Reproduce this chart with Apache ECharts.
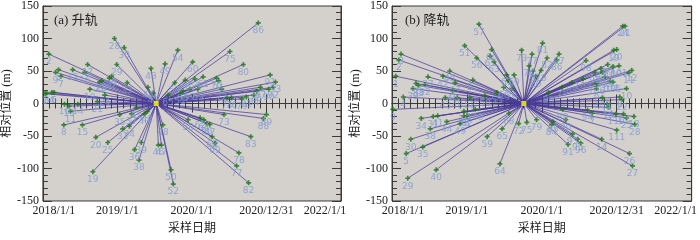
<!DOCTYPE html>
<html><head><meta charset="utf-8">
<script src="https://cdn.jsdelivr.net/npm/echarts@6/dist/echarts.min.js"></script>
<style>html,body{margin:0;padding:0;background:#fff}#c{width:700px;height:240px}</style>
</head><body><div id="c"></div>
<script>
// ---- data (x: decimal year, y: relative position in m) ----
const xTickLabels = {2018:'2018/1/1', 2019:'2019/1/1', 2020:'2020/1/1', 2021:'2020/12/31', 2022:'2022/1/1'};
const yTicks = [-150,-100,-50,0,50,100,150];
const panelTitles = ['(a) 升轨', '(b) 降轨'];

const aMaster = [2019.52, 0];
const aLabel = ['28','30','2','5','9','7','17','12','16','29','43','49','54','60','86','75','80','22','23','26','27','33','18','24','21','44','45','1','3','4','6','10','13','11','14','8','15','20','25','35','31','34','37','41','40','42','36','39','38','19','46','47','48','50','52','73','89','88','58','62','64','66','67','83','68','69','78','77','82','53','56','59','61','70','71','91','93','92','90','87','85','84','81','79','74','76','72','55','57','63','51','65'];
const aYear = [2018.96,2019.09,2018.08,2018.21,2018.17,2018.24,2018.60,2018.40,2018.56,2018.99,2019.45,2019.64,2019.81,2020.01,2020.89,2020.51,2020.69,2018.76,2018.79,2018.89,2018.92,2019.13,2018.63,2018.83,2018.73,2019.41,2019.48,2018.03,2018.05,2018.12,2018.15,2018.29,2018.35,2018.37,2018.47,2018.28,2018.53,2018.71,2018.87,2019.03,2019.07,2019.16,2019.19,2019.25,2019.36,2019.40,2019.23,2019.32,2019.29,2018.67,2019.55,2019.59,2019.61,2019.72,2019.75,2020.43,2021.00,2020.96,2019.95,2020.11,2020.16,2020.20,2020.24,2020.79,2020.27,2020.31,2020.63,2020.60,2020.76,2019.77,2019.91,2020.04,2020.15,2020.33,2020.36,2021.05,2021.12,2021.09,2021.03,2020.92,2020.87,2020.83,2020.73,2020.67,2020.47,2020.53,2020.40,2019.88,2019.97,2020.08,2019.84,2019.68];
const aBase = [100,86,76,52,48,42,60,52,48,60,54,61,82,64,124,80,60,33,35,39,42,32,22,13,3,25,16,15,16,17,17,-1,-4,-12,-1,-33,-33,-52,-60,-17,-39,-35,-16,-6,-16,-12,-71,-60,-87,-105,-64,-64,-33,-102,-124,-17,-17,-23,-25,-22,-25,-31,-32,-51,-51,-61,-76,-96,-122,32,36,38,41,39,35,44,33,25,22,25,19,13,10,7,9,9,22,20,22,22,15,13];

const bMaster = [2019.76, 0];
const bLabel = ['57','51','56','60','61','63','3','2','1','4','9','42','45','47','37','39','36','33','32','46','43','48','52','53','50','55','67','69','66','70','54','73','77','81','82','87','86','74','76','78','80','98','24','21','19','20','12','11','10','6','22','8','108','97','99','100','101','92','102','103','104','105','106','107','88','71','83','75','72','79','84','85','89','90','93','91','95','96','94','7','14','26','27','111','28','25','13','110','17','15','18','34','31','41','44','38','49','58','62','109','16','30','35','5','59','65','68','64','40','29'];
const bYear = [2019.16,2018.97,2019.13,2019.33,2019.31,2019.36,2018.12,2018.09,2018.05,2018.15,2018.01,2018.68,2018.77,2018.84,2018.48,2018.28,2018.32,2018.35,2018.44,2018.81,2018.71,2018.87,2019.08,2019.04,2019.24,2019.40,2019.53,2019.63,2019.49,2019.60,2019.55,2019.73,2019.87,2020.01,2020.07,2020.23,2020.20,2019.83,2019.88,2019.99,2019.92,2020.59,2021.08,2021.11,2020.96,2021.00,2021.20,2021.16,2021.13,2020.73,2021.07,2021.04,2020.81,2020.79,2020.88,2020.95,2021.03,2020.71,2020.81,2020.84,2020.91,2020.95,2020.73,2020.55,2020.40,2020.27,2020.09,2019.80,2019.69,2019.93,2020.13,2020.15,2020.28,2020.32,2020.41,2020.35,2020.48,2020.52,2020.61,2020.67,2020.80,2021.17,2021.21,2021.00,2021.24,2021.13,2021.23,2020.99,2021.09,2020.87,2020.89,2018.39,2018.55,2018.61,2018.73,2018.51,2018.91,2018.96,2019.00,2019.11,2018.96,2018.25,2018.41,2018.19,2019.27,2019.47,2019.56,2019.44,2018.59,2018.21];
const bBase = [122,89,70,83,73,64,76,67,42,10,-9,42,50,32,41,23,31,28,29,20,9,9,36,9,12,17,44,44,25,23,35,82,76,93,70,76,67,58,50,51,42,66,119,119,82,83,51,47,23,23,6,10,9,54,60,57,58,48,48,41,35,33,31,38,32,25,17,-29,-31,-25,-33,-28,-9,-25,-47,-63,-55,-61,-10,-15,-55,-77,-96,-41,-32,-22,-20,-16,-16,-1,-6,-23,-20,-19,-28,-39,-31,-19,-19,-9,-12,-55,-67,-77,-51,-39,-15,-93,-102,-115];

// ---- styles ----
const serif = 'Liberation Serif, Times New Roman, serif';
const cjk = 'Liberation Serif, Noto Sans CJK SC, serif';
const axisCol = '#3a3a3a';
const plusPath = 'path://M2,0H4V2H6V4H4V6H2V4H0V2H2Z';

const panels = [
  {master: aMaster, lab: aLabel, x: aYear, y: aBase, left: 41},
  {master: bMaster, lab: bLabel, x: bYear, y: bBase, left: 392}
];

const grid = [], xAxis = [], yAxis = [], series = [], title = [];
panels.forEach((p, i) => {
  grid.push({left: p.left, top: 6, width: 300, height: 206, show: true,
    backgroundColor: '#d4d0cc', borderColor: axisCol, borderWidth: 1});
  title.push({text: panelTitles[i], left: p.left + 8, top: 9,
    textStyle: {fontSize: 13, fontWeight: 'normal', color: '#222', fontFamily: cjk}});
  const common = {type: 'value', gridIndex: i, min: 2018, max: 2022, interval: 1,
    axisLine: {show: true, lineStyle: {color: axisCol}},
    axisTick: {show: true, inside: true, length: 9, lineStyle: {color: axisCol}},
    minorTick: {show: true, splitNumber: 12, length: 5, lineStyle: {color: axisCol}},
    splitLine: {show: false}};
  xAxis.push(Object.assign({}, common, {position: 'bottom',
    name: '采样日期', nameLocation: 'middle', nameGap: 22,
    nameTextStyle: {fontFamily: cjk, fontSize: 12, color: '#222'},
    axisLabel: {margin: 4, fontFamily: serif, fontSize: 12, color: '#222',
      formatter: v => {
        const t = xTickLabels[Math.round(v)] || '';
        if (Math.round(v) === 2018) return '{l|' + t + '}';
        if (Math.round(v) === 2022) return '{r|' + t + '}';
        return t;
      },
      rich: {
        l: {padding: [0, 0, 0, 22], fontFamily: serif, fontSize: 12, color: '#222'},
        r: {padding: [0, 32, 0, 0], fontFamily: serif, fontSize: 12, color: '#222'}
      }}}));
  xAxis.push(Object.assign({}, common, {position: 'top', axisLabel: {show: false}}));
  const ycommon = {type: 'value', gridIndex: i, min: -150, max: 150, interval: 50,
    axisLine: {show: true, lineStyle: {color: axisCol}},
    axisTick: {show: true, inside: true, length: 9, lineStyle: {color: axisCol}},
    minorTick: {show: true, splitNumber: 5, length: 5, lineStyle: {color: axisCol}},
    splitLine: {show: false}};
  yAxis.push(Object.assign({}, ycommon, {position: 'left',
    name: '相对位置 (m)', nameLocation: 'middle', nameGap: 27, nameRotate: 90,
    nameTextStyle: {fontFamily: cjk, fontSize: 12, color: '#222'},
    axisLabel: {margin: 4, fontFamily: serif, fontSize: 12, color: '#222',
      formatter: v => yTicks.includes(v) ? String(v) : ''}}));
  yAxis.push(Object.assign({}, ycommon, {position: 'right', axisLabel: {show: false}}));

  series.push({type: 'lines', coordinateSystem: 'cartesian2d', xAxisIndex: 2 * i, yAxisIndex: 2 * i,
    silent: true, z: 2,
    lineStyle: {color: '#4a3c9a', width: 1, opacity: 0.75},
    data: p.x.map((xv, k) => ({coords: [p.master, [xv, p.y[k]]]}))});
  series.push({type: 'scatter', xAxisIndex: 2 * i, yAxisIndex: 2 * i, z: 3, silent: true,
    symbol: plusPath, symbolSize: 5, itemStyle: {color: '#1c731c'},
    label: {show: true, position: 'bottom', distance: 1, formatter: q => q.value[2],
      color: '#7d98d4', fontSize: 9, fontFamily: 'DejaVu Sans'},
    data: p.x.map((xv, k) => [xv, p.y[k], p.lab[k]])});
  series.push({type: 'scatter', xAxisIndex: 2 * i, yAxisIndex: 2 * i, z: 4, silent: true,
    symbol: 'rect', symbolSize: 5, itemStyle: {color: '#ffff00'},
    data: [p.master]});
});

const chart = echarts.init(document.getElementById('c'), null, {renderer: 'canvas'});
chart.setOption({animation: false, backgroundColor: '#fff', title, grid, xAxis, yAxis, series});
</script>
</body></html>
